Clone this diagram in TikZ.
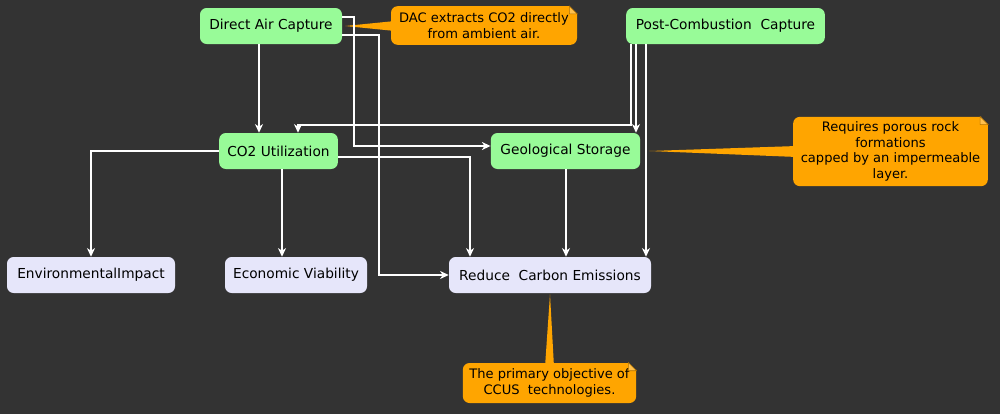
\documentclass[tikz,border=0pt]{standalone}
\usepackage{fontspec}
\setmainfont{DejaVu Sans}
\usetikzlibrary{positioning}
\usetikzlibrary{arrows.meta}
\usetikzlibrary{calc}
\definecolor{bgDark}{HTML}{333333}
\definecolor{paleGreen}{HTML}{98FB98}
\definecolor{lavender}{HTML}{E6E6FA}
\definecolor{noteOrange}{HTML}{FFA500}
\definecolor{foldOrange}{HTML}{FFC04D}
\tikzset{%
	% Specifications for style of nodes:
	base/.style = {rectangle, rounded corners=5pt, draw=none,
		minimum height=27pt, inner sep=0pt,
		text centered, font=\fontsize{10.3}{12}\selectfont},
	capture/.style = {base, fill=paleGreen},
	outcome/.style = {base, fill=lavender},
	note/.style = {base, fill=noteOrange, align=center,
		font=\fontsize{9.8}{11.6}\selectfont},
	flow/.style = {draw=white, line width=1.1pt, -{Stealth[length=6.5pt, width=6pt, inset=2pt]}},
	pointer/.style = {fill=noteOrange},
	fold/.style = {fill=foldOrange, draw=noteOrange!70!black, line width=0.4pt}
}
\begin{document}
\begin{tikzpicture}[x=0.75pt, y=-0.75pt]
		\fill[bgDark] (0,0) rectangle (1000,414);
		\useasboundingbox (0,0) rectangle (1000,414);
		%% Capture technologies
		\node [capture, minimum width=106.5pt] (dac) at (271,26) {Direct Air Capture};
		\node [capture, minimum width=149pt] (pcc) at (725.5,26) {Post-Combustion\ \ Capture};
		%% Middle row
		\node [capture, minimum width=89pt] (co2Util) at (278.5,151) {CO2 Utilization};
		\node [capture, minimum width=112pt] (geoStore) at (565.5,151) {Geological Storage};
		%% Outcomes
		\node [outcome, minimum width=126pt] (envImpact) at (91,275) {EnvironmentalImpact};
		\node [outcome, minimum width=106.5pt] (econViab) at (296,275) {Economic Viability};
		\node [outcome, minimum width=151.5pt] (reduceEm) at (550,275) {Reduce\ \ Carbon Emissions};
		%% Notes
		\coordinate (dacTip) at ($(dac.east)+(3,0)$);
		\coordinate (geoTip) at ($(geoStore.east)+(9,0)$);
		\coordinate (ccusTip) at ($(reduceEm.south)+(0,1)$);
		\fill[pointer] (dacTip) -- (395,21) -- (395,31) -- cycle;
		\fill[pointer] (geoTip) -- (797,146) -- (797,157) -- cycle;
		\fill[pointer] (ccusTip) -- (545,367) -- (554,367) -- cycle;
		\node [note, minimum width=139.5pt, minimum height=29pt] (dacNote) at (484,25.5) {DAC extracts CO2 directly\\from ambient air.};
		\node [note, minimum width=146pt, minimum height=52pt] (geoNote) at (890.5,151.5) {Requires porous rock\\formations\\capped by an impermeable\\layer.};
		\node [note, minimum width=130pt, minimum height=30pt] (ccusNote) at (549.5,383) {The primary objective of\\CCUS\ \ technologies.};
		\fill[bgDark] ([xshift=-6pt]dacNote.north east) -- (dacNote.north east) -- ([yshift=-6pt]dacNote.north east) -- cycle;
		\filldraw[fold] ([xshift=-6pt]dacNote.north east) -- ([xshift=-6pt, yshift=-6pt]dacNote.north east) -- ([yshift=-6pt]dacNote.north east) -- cycle;
		\fill[bgDark] ([xshift=-6pt]geoNote.north east) -- (geoNote.north east) -- ([yshift=-6pt]geoNote.north east) -- cycle;
		\filldraw[fold] ([xshift=-6pt]geoNote.north east) -- ([xshift=-6pt, yshift=-6pt]geoNote.north east) -- ([yshift=-6pt]geoNote.north east) -- cycle;
		\fill[bgDark] ([xshift=-6pt]ccusNote.north east) -- (ccusNote.north east) -- ([yshift=-6pt]ccusNote.north east) -- cycle;
		\filldraw[fold] ([xshift=-6pt]ccusNote.north east) -- ([xshift=-6pt, yshift=-6pt]ccusNote.north east) -- ([yshift=-6pt]ccusNote.north east) -- cycle;
		%% Flows from Direct Air Capture
		\draw[flow] (dac.south -| 259,0) -- (co2Util.north -| 259,0);
		\draw[flow] (dac.east |- 0,17) -- (354,17) |- (geoStore.west |- 0,146);
		\draw[flow] (dac.east |- 0,35) -- (379,35) |- (reduceEm.west);
		%% Flows from Post-Combustion Capture
		\draw[flow] (pcc.south -| 631,0) |- (298,125) -- (co2Util.north -| 298,0);
		\draw[flow] (pcc.south -| 636,0) -- (geoStore.north -| 636,0);
		\draw[flow] (pcc.south -| 646,0) -- (reduceEm.north -| 646,0);
		%% Flows from CO2 Utilization
		\draw[flow] (co2Util.west) -| (envImpact.north);
		\draw[flow] (co2Util.south -| 282,0) -- (econViab.north -| 282,0);
		\draw[flow] (co2Util.east |- 0,157) -| (reduceEm.north -| 470,0);
		%% Storage
		\draw[flow] (geoStore.south -| 566,0) -- (reduceEm.north -| 566,0);
	\end{tikzpicture}
\end{document}
